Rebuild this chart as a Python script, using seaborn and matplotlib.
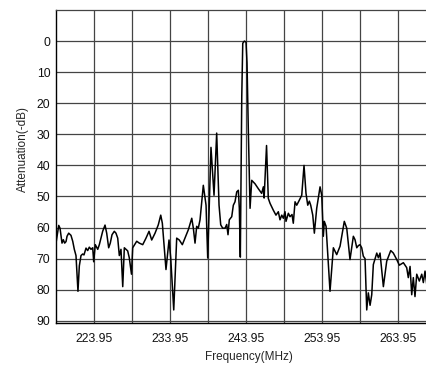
import matplotlib
matplotlib.use('Agg')
import matplotlib.pyplot as plt
import seaborn as sns
import pandas as pd
from matplotlib.ticker import FixedLocator

# trace
freq = [218.95, 219.31, 219.48, 219.74, 219.91, 220.09, 220.27, 220.40, 220.62, 220.92,
        221.15, 221.36, 221.58, 221.84, 222.02, 222.24, 222.46, 222.63, 222.90, 223.12,
        223.33, 223.56, 223.78, 223.91, 224.12, 224.44, 224.65, 224.87, 225.09, 225.40,
        225.62, 225.88, 226.09, 226.32, 226.62, 226.84, 227.07, 227.28, 227.50, 227.73,
        227.94, 228.16, 228.38, 228.59, 228.88, 229.04, 229.57, 229.91, 230.36, 230.79,
        231.19, 231.54, 231.98, 232.41, 232.73, 232.94, 233.42, 233.82, 234.04, 234.44,
        234.83, 235.17, 235.57, 235.92, 236.36, 236.81, 237.02, 237.24, 237.46, 237.67,
        237.90, 238.33, 238.69, 238.91, 239.34, 239.74, 240.09, 240.40, 240.62, 240.88,
        241.19, 241.41, 241.58, 241.75, 242.07, 242.28, 242.50, 242.73, 242.94, 243.07,
        243.20, 243.39, 243.52, 243.73, 243.95, 244.08, 244.25, 244.48, 244.70, 245.13,
        245.57, 246.01, 246.23, 246.33, 246.65, 246.88, 247.11, 247.54, 247.89, 248.20,
        248.42, 248.65, 248.86, 249.08, 249.21, 249.52, 249.74, 250.00, 250.17, 250.40,
        250.62, 250.96, 251.28, 251.58, 251.84, 252.07, 252.28, 252.46, 252.73, 252.94,
        253.25, 253.69, 253.91, 254.12, 254.25, 254.48, 255.00, 255.44, 255.88, 256.32,
        256.88, 257.20, 257.63, 258.07, 258.29, 258.52, 258.73, 258.95, 259.17, 259.38,
        259.61, 259.83, 260.04, 260.27, 260.49, 260.70, 261.15, 261.36, 261.58, 262.02,
        262.46, 262.99, 263.33, 263.78, 264.12, 264.65, 265.09, 265.30, 265.53, 265.75,
        265.96, 266.18, 266.41, 266.75, 267.07, 267.28, 267.50, 267.73]
atten = [65.0, 59.3, 60.2, 65.0, 63.9, 65.0, 64.5, 62.8, 61.8, 62.5,
         64.4, 67.0, 69.0, 80.5, 72.3, 69.0, 68.5, 68.8, 66.6, 67.4,
         66.3, 67.0, 66.5, 71.0, 65.5, 67.0, 65.5, 63.4, 61.2, 59.2,
         61.8, 66.5, 65.0, 62.3, 61.2, 61.8, 63.4, 69.0, 67.0, 79.0,
         66.5, 67.0, 67.5, 69.7, 75.0, 66.5, 64.4, 65.0, 65.5, 63.4,
         61.2, 64.0, 61.8, 59.1, 56.0, 58.6, 73.5, 64.0, 69.7, 86.5,
         63.4, 64.0, 65.5, 63.4, 60.7, 57.0, 60.2, 65.0, 59.6, 60.2,
         57.5, 46.4, 52.8, 69.8, 34.2, 49.6, 29.6, 52.8, 59.1, 60.2,
         60.2, 59.0, 62.3, 57.5, 56.5, 52.8, 51.7, 48.5, 48.0, 53.8,
         69.5, 17.7, 0.7, 0.0, 0.3, 7.0, 28.3, 53.8, 44.8, 45.9,
         47.5, 49.0, 46.9, 50.5, 33.6, 50.6, 52.2, 54.4, 56.0, 54.9,
         57.5, 56.0, 57.0, 54.9, 58.0, 55.4, 56.5, 55.8, 58.6, 51.7,
         52.8, 51.2, 49.6, 40.0, 49.0, 52.8, 51.5, 52.8, 56.0, 61.8,
         53.8, 46.9, 49.6, 62.8, 58.0, 59.6, 80.5, 66.5, 68.7, 66.0,
         58.0, 60.2, 70.3, 62.8, 63.9, 66.5, 65.8, 65.5, 66.5, 69.2,
         70.0, 86.5, 81.0, 85.0, 81.6, 71.9, 68.2, 69.7, 68.2, 79.0,
         70.8, 67.4, 68.2, 70.3, 72.1, 71.3, 72.9, 76.1, 72.5, 81.6,
         76.1, 82.2, 75.0, 77.2, 75.0, 77.7, 74.0, 78.3]

major_x = [223.95, 233.95, 243.95, 253.95, 263.95]
minor_x = [228.95, 238.95, 248.95, 258.95]
y_ticks = [0, 10, 20, 30, 40, 50, 60, 70, 80, 90]

df = pd.DataFrame({'freq': freq, 'atten': atten})

sns.set_style('white')
plt.rcParams['font.family'] = ['Liberation Sans', 'DejaVu Sans']

fig = plt.figure(figsize=(4.27, 3.66), dpi=100)
ax = fig.add_axes([56/427, 1 - 323/366, 371/427, 313/366])

sns.lineplot(data=df, x='freq', y='atten', color='black', linewidth=1.1,
             estimator=None, sort=False, ax=ax)

ax.set_xlim(218.95, 267.76)
ax.set_ylim(90.7, -10)
ax.xaxis.set_major_locator(FixedLocator(major_x))
ax.xaxis.set_minor_locator(FixedLocator(minor_x))
ax.set_xticklabels(['%.2f' % v for v in major_x])
ax.set_yticks(y_ticks)
ax.grid(True, which='both', color='#444444', linewidth=0.9)
ax.set_axisbelow(True)
ax.tick_params(which='both', length=0, labelsize=8.8, colors='#111111')
ax.tick_params(axis='x', pad=7)
ax.tick_params(axis='y', pad=4)

for side in ['left', 'bottom']:
    ax.spines[side].set_color('black')
    ax.spines[side].set_linewidth(1.0)
ax.spines['top'].set_color('#444444')
ax.spines['top'].set_linewidth(0.9)
ax.spines['right'].set_visible(False)

ax.set_xlabel('Frequency(MHz)', fontsize=8.5)
ax.set_ylabel('Attenuation(-dB)', fontsize=8.5)
ax.xaxis.set_label_coords((249 - 56) / 371, -(351 - 323) / 313)
ax.yaxis.set_label_coords(-(56 - 29) / 371, (323 - 149) / 313)

plt.savefig('out.png', dpi=100)
